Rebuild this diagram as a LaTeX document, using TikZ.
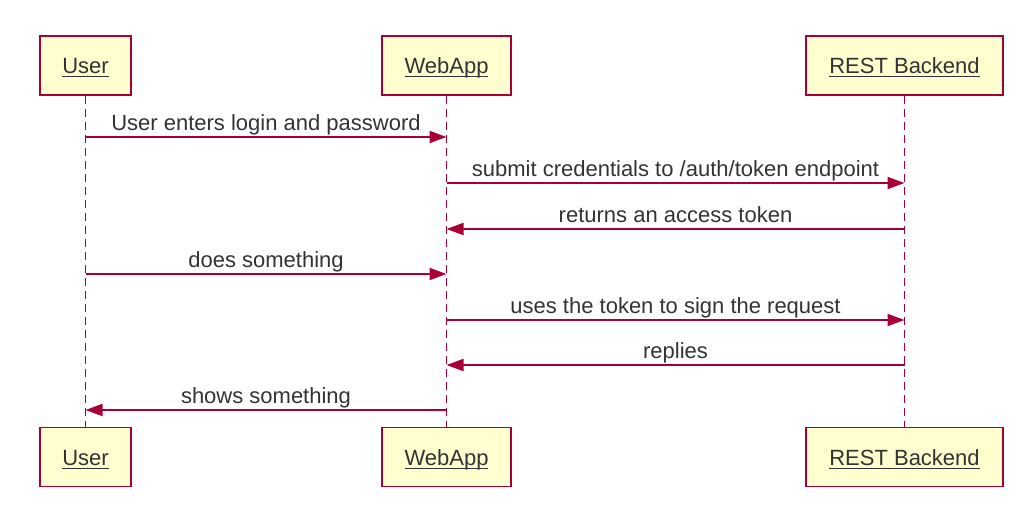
\documentclass[tikz,border=0pt]{standalone}
\usepackage{fontspec}
\setmainfont{Liberation Sans}
\usetikzlibrary{arrows.meta}
\definecolor{umlred}{HTML}{A80036}
\definecolor{umlfill}{HTML}{FEFECE}
\definecolor{umltext}{HTML}{333333}
\newcommand\myul[1]{\setbox0\hbox{#1}\rlap{\rule[-3.8pt]{\wd0}{1.3pt}}\box0}
\tikzset{
  participant/.style={draw=umlred, fill=umlfill, line width=1.8pt, minimum height=59pt, inner sep=0pt, text height=16pt, text depth=0pt, text=umltext, font=\fontsize{22}{25}\selectfont},
  lifeline/.style={draw=umlred, line width=1.5pt, dash pattern=on 8pt off 5pt},
  msg/.style={draw=umlred, line width=1.8pt, -{Triangle[length=17pt, width=12pt]}},
  msglabel/.style={text=umltext, font=\fontsize{22}{25}\selectfont, inner sep=0pt, anchor=base}
}
\begin{document}
\begin{tikzpicture}[x=1pt, y=-1pt]
\useasboundingbox (0,0) rectangle (1033,515);
% top participants
\node[participant, minimum width=91pt] (u1) at (85.5,65.5) {\myul{User}};
\node[participant, minimum width=129pt] (w1) at (446.5,65.5) {\myul{WebApp}};
\node[participant, minimum width=197pt] (r1) at (904.5,65.5) {\myul{REST Backend}};
% bottom participants
\node[participant, minimum width=91pt] (u2) at (85.5,457) {\myul{User}};
\node[participant, minimum width=129pt] (w2) at (446.5,457) {\myul{WebApp}};
\node[participant, minimum width=197pt] (r2) at (904.5,457) {\myul{REST Backend}};
% lifelines
\draw[lifeline] (u1.south) -- (u2.north);
\draw[lifeline] (w1.south) -- (w2.north);
\draw[lifeline] (r1.south) -- (r2.north);
% message anchor points
\coordinate (m1u) at (u1.south |- 0,137);
\coordinate (m1w) at (w1.south |- 0,137);
\coordinate (m2w) at (w1.south |- 0,183);
\coordinate (m2r) at (r1.south |- 0,183);
\coordinate (m3r) at (r1.south |- 0,229);
\coordinate (m3w) at (w1.south |- 0,229);
\coordinate (m4u) at (u1.south |- 0,274);
\coordinate (m4w) at (w1.south |- 0,274);
\coordinate (m5w) at (w1.south |- 0,320);
\coordinate (m5r) at (r1.south |- 0,320);
\coordinate (m6r) at (r1.south |- 0,365);
\coordinate (m6w) at (w1.south |- 0,365);
\coordinate (m7w) at (w1.south |- 0,410);
\coordinate (m7u) at (u1.south |- 0,410);
% messages
\draw[msg] (m1u) -- (m1w) node[msglabel, midway, yshift=6.5pt] (l1) {User enters login and password};
\draw[msg] (m2w) -- (m2r) node[msglabel, midway, yshift=6.5pt] (l2) {submit credentials to /auth/token endpoint};
\draw[msg] (m3r) -- (m3w) node[msglabel, midway, yshift=6.5pt] (l3) {returns an access token};
\draw[msg] (m4u) -- (m4w) node[msglabel, midway, yshift=6.5pt] (l4) {does something};
\draw[msg] (m5w) -- (m5r) node[msglabel, midway, yshift=6.5pt] (l5) {uses the token to sign the request};
\draw[msg] (m6r) -- (m6w) node[msglabel, midway, yshift=6.5pt] (l6) {replies};
\draw[msg] (m7w) -- (m7u) node[msglabel, midway, yshift=6.5pt] (l7) {shows something};
\end{tikzpicture}
\end{document}
